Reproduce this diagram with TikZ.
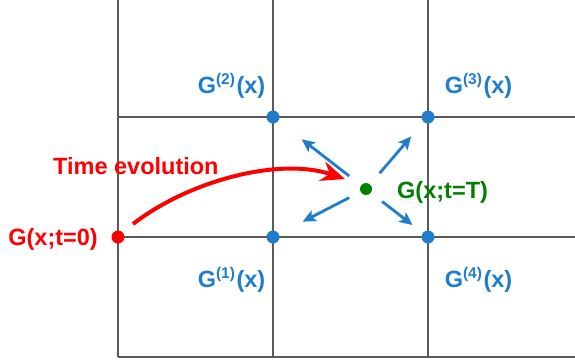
\documentclass[tikz,border=0pt]{standalone}
\usepackage{fontspec}
\setmainfont{Liberation Sans}
\usetikzlibrary{arrows.meta, calc}
\definecolor{ptblue}{RGB}{30,125,205}
\definecolor{ptgreen}{RGB}{0,128,0}
\definecolor{gridgray}{RGB}{90,90,90}
\newcommand{\Gn}[1]{G\raisebox{8.5pt}{\fontsize{15.5}{15.5}\selectfont(#1)}\kern1.5pt(x)}

\begin{document}
\begin{tikzpicture}[x=1pt,y=-1pt,
    gridline/.style={gridgray,line width=1.5pt},
    dot/.style={circle,fill=#1,inner sep=0pt,minimum size=13pt},
    lab/.style={font=\bfseries\fontsize{23.5}{28}\selectfont,inner sep=0pt,text=#1},
    spread/.style={ptblue,line width=2.8pt,-{Stealth[length=13pt,width=12pt,inset=3pt]}}]
  \useasboundingbox (0,0) rectangle (575,362);
  % grid
  \foreach \x in {118,273,428} \draw[gridline] (\x,0) -- (\x,357);
  \foreach \y in {117,237,357} \draw[gridline] (118,\y) -- (575,\y);
  % grid points
  \node[dot=red] (p0) at (118,237) {};
  \node[dot=ptblue] (p1) at (273,237) {};
  \node[dot=ptblue] (p2) at (273,117) {};
  \node[dot=ptblue] (p3) at (428,117) {};
  \node[dot=ptblue] (p4) at (428,237) {};
  \node[dot=ptgreen,minimum size=12pt] (pT) at (366,189) {};
  % labels
  \node[lab=red,anchor=base east] (l0) at (98,245) {G(x;t=0)};
  \node[lab=red,anchor=base west] (levo) at (53,174) {Time evolution};
  \node[lab=ptgreen,anchor=base west] (lT) at (397,198) {G(x;t=T)};
  \node[lab=ptblue,anchor=base] (l1) at (231.5,287) {\Gn{1}};
  \node[lab=ptblue,anchor=base] (l2) at (231.5,93) {\Gn{2}};
  \node[lab=ptblue,anchor=base] (l3) at (478.5,93) {\Gn{3}};
  \node[lab=ptblue,anchor=base] (l4) at (478.5,287) {\Gn{4}};
  % time evolution
  \coordinate (evoStart) at ($(p0)+(15,-13)$);
  \coordinate (evoEnd) at ($(pT)+(-21,-10)$);
  \draw[red,line width=4pt,-{Stealth[length=24pt,width=20pt,inset=8pt]}]
    (evoStart) .. controls +(57,-44) and +(-65,-22) .. (evoEnd);
  % spreading to neighbours
  \draw[spread] ($(pT)!0.18!(p2)$) -- ($(pT)!0.69!(p2)$);
  \draw[spread] ($(pT)!0.22!(p3)$) -- ($(pT)!0.73!(p3)$);
  \draw[spread] ($(pT)!0.18!(p1)$) -- ($(pT)!0.68!(p1)$);
  \draw[spread] ($(pT)!0.26!(p4)$) -- ($(pT)!0.75!(p4)$);
\end{tikzpicture}
\end{document}
